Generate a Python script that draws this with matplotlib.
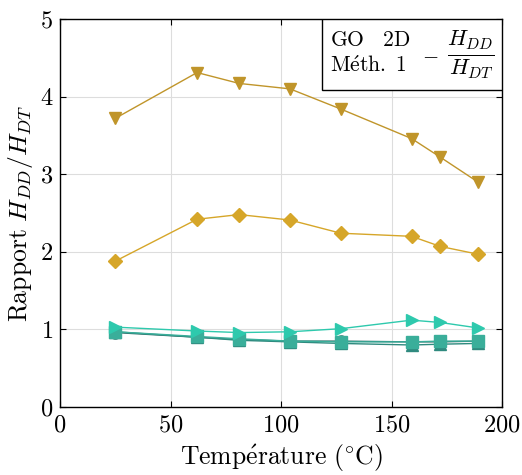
import numpy as np
import matplotlib
matplotlib.use("Agg")
from matplotlib import pyplot as plt
from matplotlib.patches import Rectangle

plt.rcParams['font.family'] = ['cmr10']
plt.rcParams['mathtext.fontset'] = 'cm'
plt.rcParams['axes.formatter.use_mathtext'] = True

# données
temperature = [25, 62, 81, 104, 127, 159, 172, 189]
tri_bas = [3.72, 4.31, 4.17, 4.10, 3.84, 3.46, 3.22, 2.90]
losange = [1.88, 2.42, 2.48, 2.41, 2.24, 2.20, 2.07, 1.97]
tri_droite = [1.03, 0.98, 0.96, 0.97, 1.01, 1.12, 1.09, 1.02]
cercle = [0.96, 0.90, 0.87, 0.85, 0.85, 0.84, 0.84, 0.85]
carre = [0.97, 0.91, 0.88, 0.85, 0.84, 0.84, 0.85, 0.85]
tri_haut = [0.97, 0.90, 0.86, 0.84, 0.82, 0.80, 0.81, 0.82]

fig = plt.figure(figsize=(5.22, 4.75), dpi=100)
ax = fig.add_axes([0.115, 0.143, 0.847, 0.817])

ax.plot(temperature, tri_bas, '-v', color='#c0952a', lw=1, ms=9)
ax.plot(temperature, losange, '-D', color='#d6a629', lw=1, ms=7)
ax.plot(temperature, cercle, '-o', color='#2f706b', lw=1, ms=8)
ax.plot(temperature, tri_haut, '-^', color='#2f8a7f', lw=1, ms=8)
ax.plot(temperature, carre, '-s', color='#3aae9a', lw=1, ms=8)
ax.plot(temperature, tri_droite, '->', color='#2ec9ad', lw=1, ms=9)

ax.set_xlim(0, 200)
ax.set_ylim(0, 5)
ax.set_xticks([0, 50, 100, 150, 200])
ax.set_yticks([0, 1, 2, 3, 4, 5])
ax.grid(True, color='#dddddd', lw=0.8)
ax.set_axisbelow(True)
ax.tick_params(direction='in', top=True, right=True, labelsize=17.5, length=4, pad=5)
for s in ax.spines.values():
    s.set_linewidth(1)

ax.set_xlabel(r'$\mathrm{Temp}\acute{\mathrm{e}}\mathrm{rature\ (^{\circ}C)}$',
              fontsize=18.5, labelpad=5)
ax.set_ylabel(r'$\mathrm{Rapport}\ H_{DD}/H_{DT}$', fontsize=18.5, labelpad=3)

# cadre de légende
ax.add_patch(Rectangle((0.593, 0.817), 0.407, 0.183, transform=ax.transAxes,
                       facecolor='white', edgecolor='black', lw=1, zorder=5))
ax.text(0.61, 0.945, r'$\mathrm{GO\quad 2D}$', transform=ax.transAxes,
        fontsize=15.5, va='center', ha='left', zorder=6)
ax.text(0.61, 0.88, r'$\mathrm{M}\acute{\mathrm{e}}\mathrm{th.\ 1}$', transform=ax.transAxes,
        fontsize=15.5, va='center', ha='left', zorder=6)
ax.text(0.838, 0.905, r'$-$', transform=ax.transAxes,
        fontsize=15, va='center', ha='center', zorder=6)
ax.text(0.93, 0.908, r'$\frac{H_{DD}}{H_{DT}}$', transform=ax.transAxes,
        fontsize=23, va='center', ha='center', zorder=6)

fig.savefig('out.png', dpi=100)
